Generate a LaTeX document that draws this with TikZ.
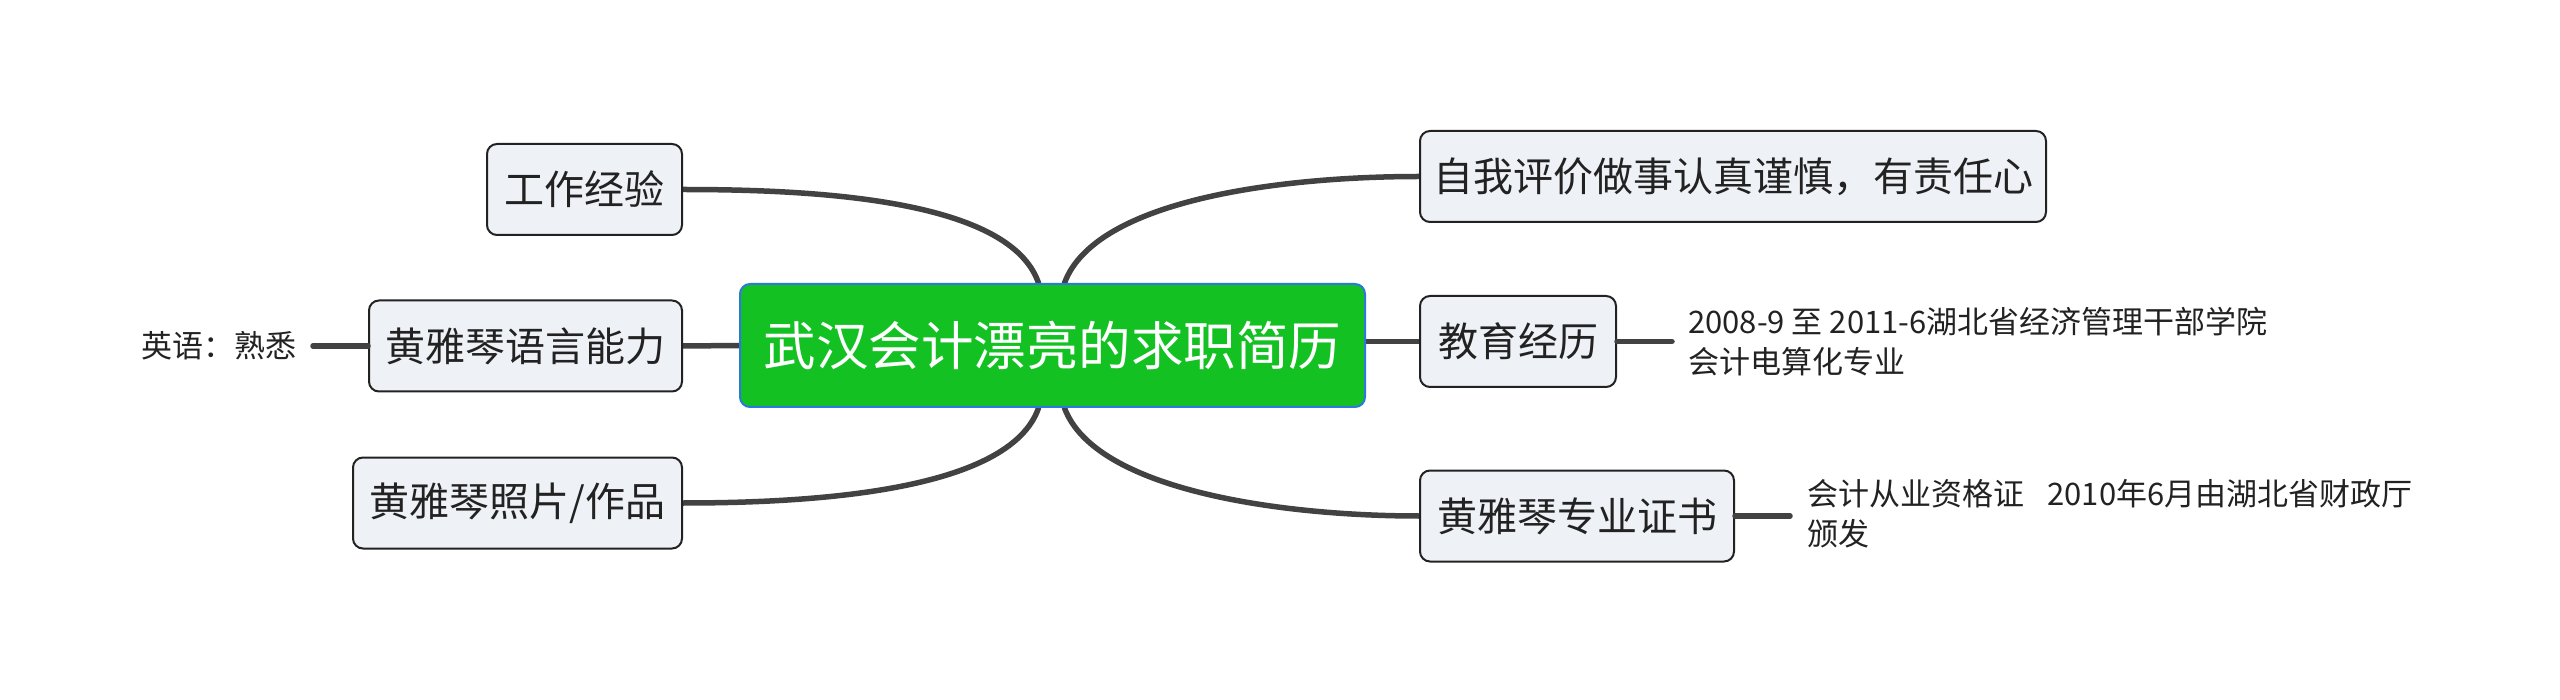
\documentclass[tikz,border=0pt]{standalone}
\usepackage{fontspec}
\usetikzlibrary{backgrounds}
\newfontfamily\cjk{Noto Sans CJK SC}
\definecolor{rootgreen}{RGB}{19,194,34}
\definecolor{rootblue}{RGB}{45,120,220}
\definecolor{topicfill}{RGB}{238,241,245}
\definecolor{branchgray}{RGB}{66,66,66}
\definecolor{inkgray}{RGB}{34,34,34}
\tikzset{
  root/.style={draw=rootblue,line width=2pt,fill=rootgreen,rounded corners=10pt,
    text=white,font=\cjk\fontsize{52.5}{56}\selectfont,minimum width=625pt,minimum height=123pt},
  topic/.style={draw=inkgray,line width=2pt,fill=topicfill,rounded corners=10pt,
    text=inkgray,font=\cjk\fontsize{40}{44}\selectfont,minimum height=91pt,inner xsep=0pt},
  leaf/.style={text=inkgray,font=\cjk\fontsize{31}{40}\selectfont,align=left,inner ysep=0pt},
  branch/.style={draw=branchgray,line width=5.5pt,line cap=round}
}
\begin{document}
\begin{tikzpicture}[x=1pt,y=-1pt]
  \useasboundingbox (0,0) rectangle (2560,700);
  % Root
  \node[root] (center) at (1052.5,345.5) {武汉会计漂亮的求职简历};
  % Topics
  \node[topic,minimum width=195pt] (work) at (584.5,189.5) {工作经验};
  \node[topic,minimum width=313pt] (lang) at (525.5,346) {黄雅琴语言能力};
  \node[topic,minimum width=329pt] (photo) at (517.5,503) {黄雅琴照片/作品};
  \node[topic,minimum width=626pt] (eval) at (1733,176.5) {自我评价做事认真谨慎，有责任心};
  \node[topic,minimum width=196pt] (edu) at (1518,341.5) {教育经历};
  \node[topic,minimum width=314pt] (cert) at (1577,516) {黄雅琴专业证书};
  % Leaves
  \node[leaf,inner xsep=16pt,anchor=east] (english) at (313,346) {英语：熟悉};
  \node[leaf,inner xsep=16pt,anchor=west] (school) at (1672,341.5)
    {2008-9 至 2011-6湖北省经济管理干部学院\\会计电算化专业};
  \node[leaf,inner xsep=17pt,anchor=west] (license) at (1790,514)
    {会计从业资格证\hspace{0.75em}2010年6月由湖北省财政厅\\颁发};
  % Branches, behind the root
  \begin{scope}[on background layer]
    \draw[branch] ([xshift=-14pt]center.north) .. controls (1010,200) and (820,189.5) .. (work.east);
    \draw[branch] ([xshift=12pt]center.north) .. controls (1095,200) and (1280,176.5) .. (eval.west);
    \draw[branch] ([xshift=-14pt]center.south) .. controls (1010,490) and (820,503) .. (photo.east);
    \draw[branch] ([xshift=12pt]center.south) .. controls (1095,490) and (1280,516) .. (cert.west);
    \draw[branch] (center.west) -- (lang.east);
    \draw[branch] (center.east |- edu.west) -- (edu.west);
  \end{scope}
  \draw[branch] (english.east) -- (lang.west);
  \draw[branch] (edu.east) -- (edu.east -| school.west);
  \draw[branch] (cert.east) -- (cert.east -| license.west);
\end{tikzpicture}
\end{document}
